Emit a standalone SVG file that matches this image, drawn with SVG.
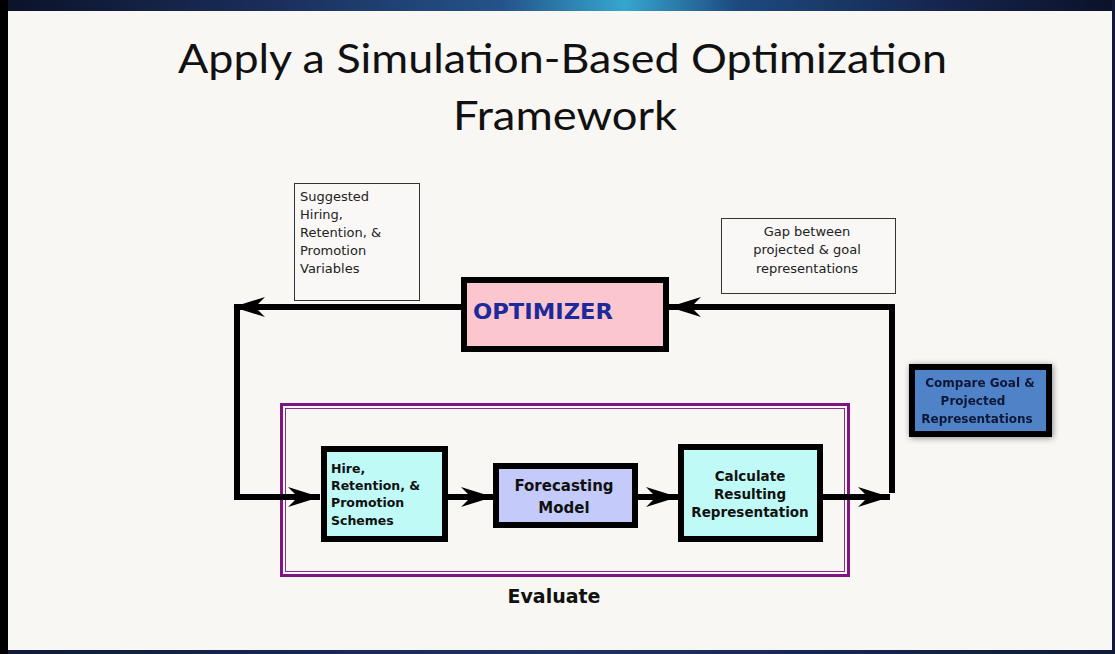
<svg xmlns="http://www.w3.org/2000/svg" width="1115" height="654" viewBox="0 0 1115 654">
  <defs>
    <linearGradient id="bandTop" x1="0" y1="0" x2="1" y2="0">
      <stop offset="0" stop-color="#0b1228"/>
      <stop offset="0.25" stop-color="#1b2f5c"/>
      <stop offset="0.45" stop-color="#24538a"/>
      <stop offset="0.56" stop-color="#35a6d0"/>
      <stop offset="0.66" stop-color="#1e4a80"/>
      <stop offset="0.85" stop-color="#15244c"/>
      <stop offset="1" stop-color="#0b1228"/>
    </linearGradient>
    <linearGradient id="bandBottom" x1="0" y1="0" x2="1" y2="0">
      <stop offset="0" stop-color="#101a38"/>
      <stop offset="0.5" stop-color="#1c3462"/>
      <stop offset="1" stop-color="#101a38"/>
    </linearGradient>
    <filter id="softShadow" x="-20%" y="-30%" width="140%" height="160%">
      <feGaussianBlur in="SourceAlpha" stdDeviation="3"/>
      <feOffset dx="1" dy="1" result="blur"/>
      <feComponentTransfer><feFuncA type="linear" slope="0.45"/></feComponentTransfer>
      <feMerge><feMergeNode/><feMergeNode in="SourceGraphic"/></feMerge>
    </filter>
    <marker id="barb" viewBox="-34 -12 36 24" refX="0" refY="0" markerWidth="36" markerHeight="24" markerUnits="userSpaceOnUse" orient="auto">
      <path d="M0,0 L-32,-10 L-22,0 L-32,10 Z" fill="#000"/>
    </marker>
    <style>
      .title { font-family: Lato, "Open Sans", "Liberation Sans", sans-serif; font-size: 41px; fill: #111; }
      .note { font-family: "DejaVu Sans", "Liberation Sans", sans-serif; font-size: 13px; fill: #222; }
      .label { font-family: "DejaVu Sans", "Liberation Sans", sans-serif; font-weight: bold; fill: #111; }
      .noteBox { fill: #f9f8f6; stroke: #333; stroke-width: 1; }
      .block { stroke: #000; stroke-width: 6; }
      .wire { fill: none; stroke: #000; stroke-width: 6; stroke-linejoin: miter; }
    </style>
  </defs>

  <!-- slide background and frame -->
  <rect x="0" y="0" width="1115" height="654" fill="#f8f7f4"/>
  <rect x="0" y="0" width="1115" height="11" fill="url(#bandTop)"/>
  <rect x="0" y="650" width="1115" height="4" fill="url(#bandBottom)"/>
  <rect x="0" y="0" width="8" height="654" fill="#000"/>
  <rect x="1112" y="0" width="3" height="654" fill="#101a38"/>

  <!-- title -->
  <text class="title" x="562.5" y="73" text-anchor="middle" textLength="769" lengthAdjust="spacingAndGlyphs">Apply a Simulation-Based Optimization</text>
  <text class="title" x="565" y="130" text-anchor="middle" textLength="224" lengthAdjust="spacingAndGlyphs">Framework</text>

  <!-- evaluate frame -->
  <g id="evaluate">
    <rect x="281.5" y="404.5" width="567" height="171" fill="none" stroke="#7e1580" stroke-width="3"/>
    <rect x="285.5" y="408.5" width="559" height="163" fill="none" stroke="#8a2a8c" stroke-width="1"/>
    <text class="label" x="554" y="603" text-anchor="middle" font-size="19">Evaluate</text>
  </g>

  <!-- connectors -->
  <g id="connectors">
    <path class="wire" d="M461,307 H237 V497 H320" marker-end="url(#barb)"/>
    <path d="M233,307 L265,297 L255,307 L265,317 Z" fill="#000"/>
    <path class="wire" d="M448,497 H493" marker-end="url(#barb)"/>
    <path class="wire" d="M638,497 H678" marker-end="url(#barb)"/>
    <path class="wire" d="M823,497 H890" marker-end="url(#barb)"/>
    <path class="wire" d="M892,493 V307 H669" marker-end="url(#barb)"/>
  </g>

  <!-- note: suggested variables -->
  <g id="note-suggested">
    <rect class="noteBox" x="294.5" y="183.5" width="125" height="117"/>
    <text class="note" x="300" y="201">Suggested</text>
    <text class="note" x="300" y="219">Hiring,</text>
    <text class="note" x="300" y="237">Retention, &amp;</text>
    <text class="note" x="300" y="255">Promotion</text>
    <text class="note" x="300" y="273">Variables</text>
  </g>

  <!-- note: gap -->
  <g id="note-gap">
    <rect class="noteBox" x="721.5" y="218.5" width="174" height="75"/>
    <text class="note" x="807" y="236" text-anchor="middle" font-size="14">Gap between</text>
    <text class="note" x="807" y="254" text-anchor="middle" font-size="14">projected &amp; goal</text>
    <text class="note" x="807" y="273" text-anchor="middle" font-size="14">representations</text>
  </g>

  <!-- optimizer -->
  <g id="optimizer">
    <rect class="block" x="464" y="280" width="202" height="69" fill="#fcc6ce"/>
    <text class="label" x="473" y="319" font-size="22" style="fill:#1d2a9c" textLength="140" lengthAdjust="spacingAndGlyphs">OPTIMIZER</text>
  </g>

  <!-- hire / retention / promotion -->
  <g id="schemes">
    <rect class="block" x="324" y="449" width="121" height="90" fill="#c0faf6"/>
    <text class="label" x="331" y="473" font-size="12.5">Hire,</text>
    <text class="label" x="331" y="490" font-size="12.5">Retention,  &amp;</text>
    <text class="label" x="331" y="507" font-size="12.5">Promotion</text>
    <text class="label" x="331" y="525" font-size="12.5">Schemes</text>
  </g>

  <!-- forecasting model -->
  <g id="forecasting">
    <rect class="block" x="496" y="466" width="139" height="59" fill="#c4cbfa"/>
    <text class="label" x="564" y="491" text-anchor="middle" font-size="15">Forecasting</text>
    <text class="label" x="564" y="513" text-anchor="middle" font-size="15">Model</text>
  </g>

  <!-- calculate resulting representation -->
  <g id="calculate">
    <rect class="block" x="681" y="447" width="139" height="92" fill="#c0faf6"/>
    <text class="label" x="750" y="481" text-anchor="middle" font-size="13.5">Calculate</text>
    <text class="label" x="750" y="499" text-anchor="middle" font-size="13.5">Resulting</text>
    <text class="label" x="750" y="517" text-anchor="middle" font-size="13.5">Representation</text>
  </g>

  <!-- compare goal and projected -->
  <g id="compare" filter="url(#softShadow)">
    <rect x="912" y="367" width="137" height="67" fill="#5082c6" stroke="#000" stroke-width="6"/>
    <text class="label" x="980" y="387" text-anchor="middle" font-size="12" style="fill:#0c1838">Compare Goal &amp;</text>
    <text class="label" x="973" y="405" text-anchor="middle" font-size="12" style="fill:#0c1838">Projected</text>
    <text class="label" x="977" y="423" text-anchor="middle" font-size="12" style="fill:#0c1838">Representations</text>
  </g>
</svg>
